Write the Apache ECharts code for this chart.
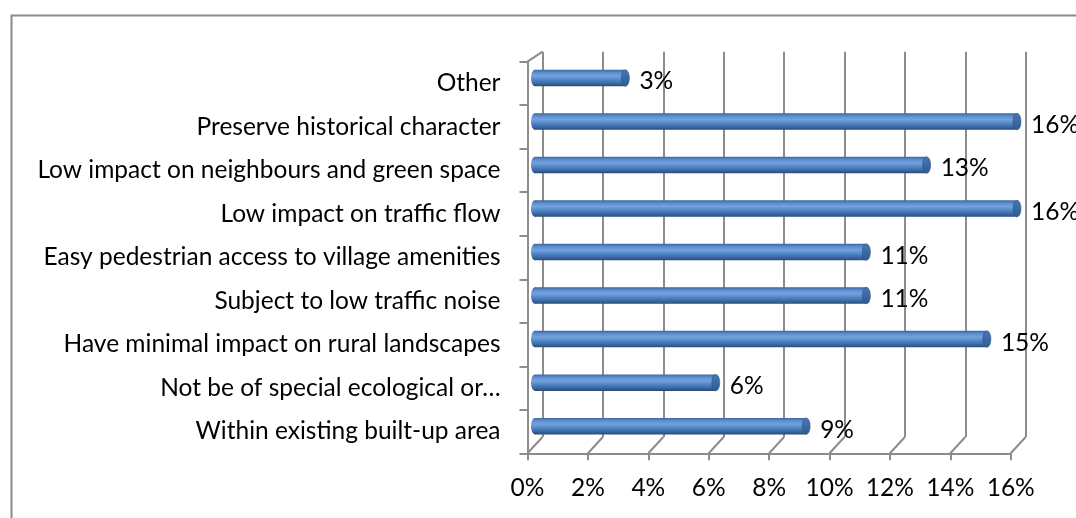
<!DOCTYPE html>
<html>
<head>
<meta charset="utf-8">
<script src="https://cdn.jsdelivr.net/npm/echarts@6/dist/echarts.min.js"></script>
<style>
html,body{margin:0;padding:0;background:#fff;}
#chart{width:1076px;height:518px;}
</style>
</head>
<body>
<div id="chart"></div>
<script>
// Categories, top to bottom
const categories = [
  'Other',
  'Preserve historical character',
  'Low impact on neighbours and green space',
  'Low impact on traffic flow',
  'Easy pedestrian access to village amenities',
  'Subject to low traffic noise',
  'Have minimal impact on rural landscapes',
  'Not be of special ecological or\u2026',
  'Within existing built-up area'
];
// Percent values
const values = [3, 16, 13, 16, 11, 11, 15, 6, 9];
// Value axis ticks
const xMin = 0, xMax = 16, xStep = 2;
const xTickValues = [0, 2, 4, 6, 8, 10, 12, 14, 16];

const FONT = 'Lato, "Open Sans", sans-serif';
const FS = 24.5;
const GRID_COLOR = '#8c8c8c';

const chart = echarts.init(document.getElementById('chart'), null, {renderer: 'canvas'});

const bodyFill = new echarts.graphic.LinearGradient(0, 0, 0, 1, [
  {offset: 0, color: '#3a67a3'},
  {offset: 0.18, color: '#5f8fd0'},
  {offset: 0.38, color: '#74a2df'},
  {offset: 0.62, color: '#5084c5'},
  {offset: 0.85, color: '#38649c'},
  {offset: 1, color: '#274a77'}
]);
const capFill = new echarts.graphic.LinearGradient(0, 0, 0, 1, [
  {offset: 0, color: '#4a78b5'},
  {offset: 1, color: '#2f5a90'}
]);

function renderBar(params, api) {
  const v = api.value(0);
  const ci = api.value(1);
  const p0 = api.coord([0, ci]);
  const p1 = api.coord([v, ci]);
  const h = 16.5;
  const rx = 4;
  const yc = p0[1];
  const ry = h / 2;
  return {
    type: 'group',
    children: [
      {type: 'circle', x: p0[0], y: yc, scaleX: rx / ry, shape: {cx: 0, cy: 0, r: ry},
       style: {fill: bodyFill}},
      {type: 'rect', shape: {x: p0[0], y: yc - ry, width: p1[0] - p0[0], height: h},
       style: {fill: bodyFill}},
      {type: 'circle', x: p1[0], y: yc, scaleX: rx / ry, shape: {cx: 0, cy: 0, r: ry},
       style: {fill: capFill, stroke: '#2c5282', lineWidth: 0.8}},
      {type: 'text', x: p1[0] + 14, y: yc + 3.5,
       style: {text: v + '%', fill: '#000', font: FS + 'px ' + FONT, align: 'left', verticalAlign: 'middle'}}
    ]
  };
}

function renderDiag(params, api) {
  const p = api.coord([api.value(0), api.value(1)]);
  const dy = api.value(1) === 0 ? 16.3 : 10;
  return {
    type: 'line',
    shape: {x1: p[0], y1: p[1], x2: p[0] - 15, y2: p[1] + dy},
    style: {stroke: GRID_COLOR, lineWidth: 2}
  };
}

const diagData = xTickValues.map(t => [t, 0]).concat([[0, 1]]);

const option = {
  animation: false,
  backgroundColor: '#fff',
  graphic: [{
    type: 'rect', left: 9, top: 13,
    shape: {width: 1200, height: 700},
    style: {fill: 'none', stroke: '#8a8a8a', lineWidth: 2},
    silent: true, z: 100
  }],
  grid: [
    {left: 527.5, top: 61.7, width: 483.2, height: 391.6},
    {left: 542.5, top: 51.7, width: 483.2, height: 385.3},
    {left: 535, top: 56.3, width: 482, height: 391.6}
  ],
  xAxis: [
    {gridIndex: 0, type: 'value', min: xMin, max: xMax, interval: xStep,
     axisLine: {show: true, lineStyle: {color: GRID_COLOR, width: 2}},
     axisTick: {show: true, length: 7, lineStyle: {color: GRID_COLOR, width: 2}},
     axisLabel: {formatter: '{value}%', color: '#000', fontFamily: FONT, fontSize: FS, margin: 22},
     splitLine: {show: false}},
    {gridIndex: 1, type: 'value', min: xMin, max: xMax, interval: xStep,
     axisLine: {show: false}, axisTick: {show: false}, axisLabel: {show: false},
     splitLine: {show: true, lineStyle: {color: GRID_COLOR, width: 2}}},
    {gridIndex: 2, type: 'value', min: xMin, max: xMax, interval: xStep, show: false}
  ],
  yAxis: [
    {gridIndex: 0, type: 'category', data: categories, inverse: true,
     axisLine: {show: true, lineStyle: {color: GRID_COLOR, width: 2}},
     axisTick: {show: true, length: 8, lineStyle: {color: GRID_COLOR, width: 2}},
     axisLabel: {color: '#000', fontFamily: FONT, fontSize: FS, margin: 27},
     splitLine: {show: false}},
    {gridIndex: 1, type: 'value', min: 0, max: 1, show: false},
    {gridIndex: 2, type: 'category', data: categories, inverse: true, show: false}
  ],
  series: [
    {type: 'custom', xAxisIndex: 1, yAxisIndex: 1, renderItem: renderDiag, data: diagData, silent: true, z: 1},
    {type: 'custom', xAxisIndex: 2, yAxisIndex: 2, renderItem: renderBar,
     data: values.map((v, i) => [v, i]), z: 5}
  ]
};
chart.setOption(option);
</script>
</body>
</html>
